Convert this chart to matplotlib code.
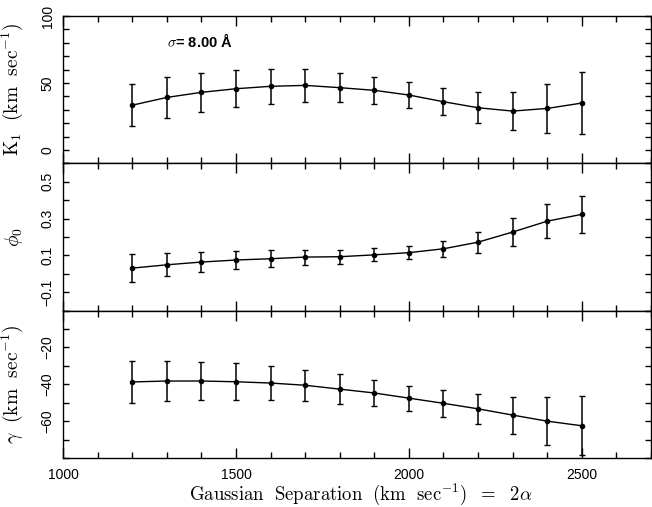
import matplotlib
matplotlib.use("Agg")
import matplotlib.pyplot as plt
from matplotlib.ticker import MultipleLocator, FixedLocator
import numpy as np

plt.rcParams['mathtext.fontset'] = 'cm'

sep = [1200, 1300, 1400, 1500, 1600, 1700, 1800, 1900, 2000, 2100, 2200, 2300, 2400, 2500]

k1 = [33.4, 39.2, 43.0, 45.7, 47.5, 48.2, 46.5, 44.5, 41.0, 36.0, 31.5, 29.0, 31.0, 35.0]
k1_err = [15.5, 15.0, 14.5, 14.0, 13.3, 12.2, 11.0, 10.0, 9.5, 10.0, 11.5, 14.3, 18.4, 23.0]

phi0 = [0.031, 0.049, 0.064, 0.075, 0.082, 0.091, 0.093, 0.103, 0.115, 0.136, 0.172, 0.227, 0.286, 0.323]
phi0_err = [0.075, 0.062, 0.055, 0.049, 0.045, 0.041, 0.037, 0.035, 0.036, 0.043, 0.057, 0.076, 0.094, 0.100]

gamma = [-38.7, -38.2, -38.2, -38.6, -39.3, -40.5, -42.6, -44.7, -47.5, -50.3, -53.3, -56.7, -60.0, -62.5]
gamma_err = [11.3, 10.6, 10.3, 10.0, 9.2, 8.5, 8.0, 7.2, 6.8, 7.2, 8.2, 10.0, 13.0, 16.0]

fig = plt.figure(figsize=(6.52, 5.07), dpi=100)
left, right, top, bottom = 63/652, 651/652, 1 - 16/507, 1 - 458/507
h = (top - bottom) / 3
axes = [fig.add_axes([left, bottom + (2 - i) * h, right - left, h]) for i in range(3)]

series = [(k1, k1_err), (phi0, phi0_err), (gamma, gamma_err)]
ylims = [(-10, 100), (-0.2, 0.6), (-80, 0)]
majors = [[0, 50, 100], [-0.1, 0.1, 0.3, 0.5], [-60, -40, -20]]
minors = [10, 0.1, 10]
ylabels = [r'$\mathrm{K_1\ \ (km\ \ sec^{-1})}$', r'$\phi_0$', r'$\gamma\ \ \mathrm{(km\ \ sec^{-1})}$']

for ax, (vals, errs), yl, mj, mn, lab in zip(axes, series, ylims, majors, minors, ylabels):
    ax.errorbar(sep, vals, yerr=errs, color='black', lw=1.0, elinewidth=1.1,
                capsize=2, capthick=1.0, marker='o', ms=3)
    ax.set_xlim(1000, 2700)
    ax.set_ylim(*yl)
    ax.xaxis.set_major_locator(MultipleLocator(500))
    ax.xaxis.set_minor_locator(MultipleLocator(100))
    ax.yaxis.set_major_locator(FixedLocator(mj))
    ax.yaxis.set_minor_locator(MultipleLocator(mn))
    ax.tick_params(which='both', direction='in', top=True, right=True, width=1.0)
    ax.tick_params(which='major', axis='x', length=7)
    ax.tick_params(which='minor', axis='x', length=4)
    ax.tick_params(which='both', axis='y', length=4)
    for lbl in ax.get_yticklabels():
        lbl.set_rotation(90)
        lbl.set_va('center')
        lbl.set_family('Liberation Sans')
        lbl.set_fontsize(10)
    ax.tick_params(axis='y', pad=6)
    ax.set_ylabel(lab, fontsize=14)
    ax.yaxis.set_label_coords(-0.065, 0.5)
    for s in ax.spines.values():
        s.set_linewidth(1.0)
    if ax is not axes[2]:
        ax.tick_params(labelbottom=False)

for lbl in axes[2].get_xticklabels():
    lbl.set_family('Liberation Sans')
    lbl.set_fontsize(10)
axes[2].tick_params(axis='x', pad=7)
fig.text(361/652, 1 - 494/507,
         r'$\mathrm{Gaussian\ \ Separation\ \ (km\ \ sec^{-1})\ \ =\ \ 2}\alpha$',
         fontsize=13.5, ha='center', va='center')

axes[0].text(1300, 81, r'$\sigma$= 8.00 Å', fontsize=10.5, fontweight='bold',
             family='Liberation Sans', va='center', ha='left')

fig.savefig('out.png', dpi=100)
